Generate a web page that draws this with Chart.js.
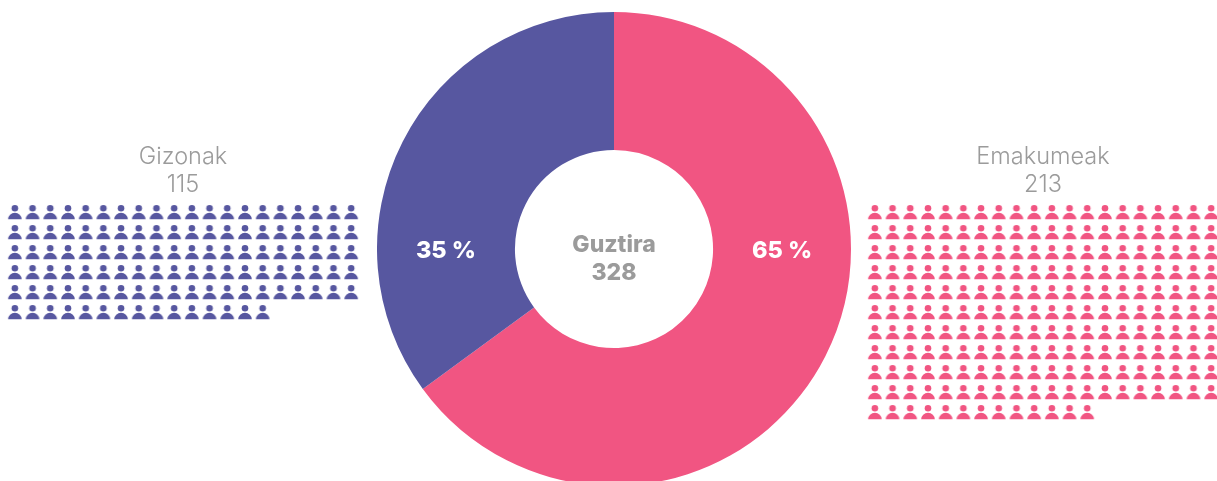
<!DOCTYPE html>
<html>
<head>
<meta charset="utf-8">
<title>Guztira</title>
<script src="https://cdn.jsdelivr.net/npm/chart.js@4/dist/chart.umd.js"></script>
<style>
  html, body { margin: 0; padding: 0; width: 1217px; height: 481px; overflow: hidden; background: #fff; }
  .box { position: absolute; }
  #ring { left: 377px; top: 12px; width: 474px; height: 474px; }
  #men { left: 6px; top: 142px; width: 354px; height: 180px; }
  #women { left: 866px; top: 142px; width: 354px; height: 280px; }
</style>
</head>
<body>
<div class="box" id="ring"><canvas id="ringChart" width="474" height="474"></canvas></div>
<div class="box" id="men"><canvas id="menChart" width="354" height="180"></canvas></div>
<div class="box" id="women"><canvas id="womenChart" width="354" height="280"></canvas></div>
<script>
const categories = ['Emakumeak', 'Gizonak'];
const values = [213, 115];
const percentLabels = ['65 %', '35 %'];
const totalLabel = 'Guztira';
const totalValue = 328;

const PINK = '#f15582';
const BLUE = '#5757a0';
const GREY = '#9b9b9b';
const perRow = 20;

// little person used as the point style
function personIcon(color) {
  let c = document.createElement('canvas');
  c.width = 16;
  c.height = 16;
  let ctx = c.getContext('2d');
  ctx.fillStyle = color;
  ctx.beginPath();
  ctx.arc(8, 4.2, 3.3, 0, Math.PI * 2);
  ctx.fill();
  ctx.beginPath();
  ctx.ellipse(8, 15.2, 6.8, 6.4, 0, Math.PI, 0);
  ctx.closePath();
  ctx.fill();
  return c;
}

// one point per person, filling the rows left to right
function gridPoints(count) {
  const points = [];
  for (let i = 0; i < count; i++) {
    points.push({ x: i % perRow, y: Math.floor(i / perRow) });
  }
  return points;
}

const ringLabels = {
  id: 'ringLabels',
  afterDraw(chart) {
    const ctx = chart.ctx;
    const arcs = chart.getDatasetMeta(0).data;
    ctx.save();
    ctx.textAlign = 'center';
    ctx.textBaseline = 'middle';
    const cx = arcs[0].x;
    const cy = arcs[0].y;
    const mid = (arcs[0].innerRadius + arcs[0].outerRadius) / 2;
    ctx.fillStyle = '#fff';
    ctx.font = '800 23.5px Inter';
    arcs.forEach((arc, i) => {
      const angle = (arc.startAngle + arc.endAngle) / 2;
      ctx.fillText(percentLabels[i], cx + Math.sign(Math.cos(angle)) * mid, cy + 2);
    });
    ctx.fillStyle = GREY;
    ctx.font = '800 23px Inter';
    ctx.fillText(totalLabel, cx, cy - 4);
    ctx.fillText(totalValue, cx, cy + 24);
    ctx.restore();
  }
};

new Chart(document.getElementById('ringChart'), {
  type: 'doughnut',
  data: {
    labels: categories,
    datasets: [{ data: values, backgroundColor: [PINK, BLUE], borderWidth: 0 }]
  },
  options: {
    responsive: false,
    animation: false,
    cutout: '41.8%',
    layout: { padding: 0 },
    plugins: { legend: { display: false }, tooltip: { enabled: false } }
  },
  plugins: [ringLabels]
});

function drawPeople(id, name, count, color) {
  new Chart(document.getElementById(id), {
    type: 'scatter',
    data: {
      datasets: [{
        label: name,
        data: gridPoints(count),
        pointStyle: personIcon(color),
        clip: false
      }]
    },
    options: {
      responsive: false,
      animation: false,
      layout: { padding: 0, autoPadding: false },
      scales: {
        x: { display: false, min: -0.5, max: perRow - 0.5 },
        y: { display: false, reverse: true, min: -0.5, max: Math.ceil(count / perRow) - 0.5 }
      },
      plugins: {
        legend: { display: false },
        tooltip: { enabled: false },
        title: {
          display: true,
          text: [name, String(count)],
          color: GREY,
          font: { family: 'Inter', size: 23.5, weight: '300', lineHeight: 1.2 },
          padding: { top: 1, bottom: 2.6 }
        }
      }
    }
  });
}

drawPeople('menChart', categories[1], values[1], BLUE);
drawPeople('womenChart', categories[0], values[0], PINK);
</script>
</body>
</html>
